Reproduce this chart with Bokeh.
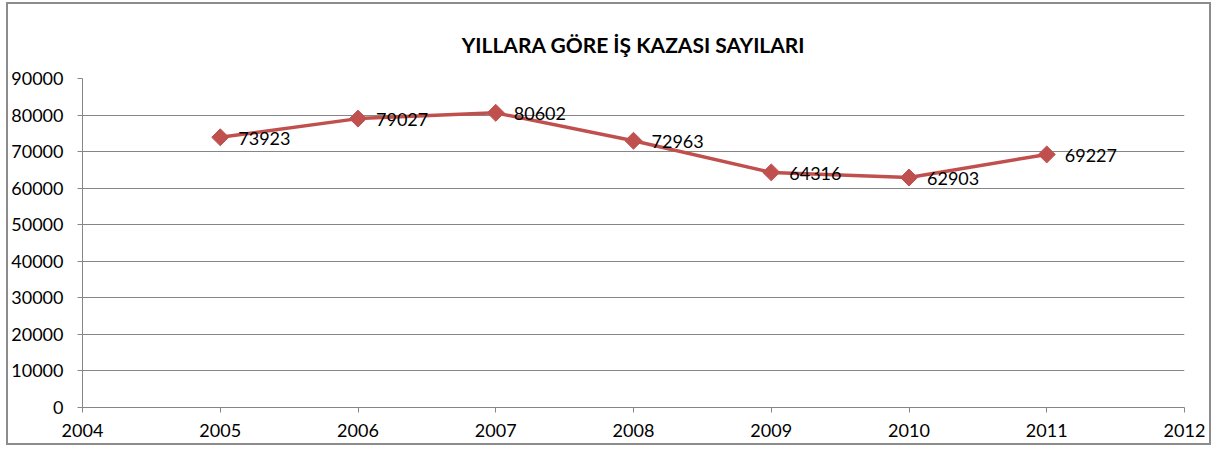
import math
from bokeh.plotting import figure
from bokeh.models import ColumnDataSource, LabelSet, FixedTicker, Range1d
from bokeh.core.properties import value
from bokeh.embed import file_html
from bokeh.resources import INLINE

years = [2005, 2006, 2007, 2008, 2009, 2010, 2011]
accidents = [73923, 79027, 80602, 72963, 64316, 62903, 69227]
labels = [str(v) for v in accidents]
x_ticks = [2004, 2005, 2006, 2007, 2008, 2009, 2010, 2011, 2012]
y_ticks = [0, 10000, 20000, 30000, 40000, 50000, 60000, 70000, 80000, 90000]
title_text = "YILLARA GÖRE İŞ KAZASI SAYILARI"

FONT = "Lato"
GRAY = "#868686"
RED = "#C0504D"

src = ColumnDataSource(dict(x=years, y=accidents, label=labels))

p = figure(width=1205, height=443, output_backend="svg", toolbar_location=None,
           x_range=Range1d(2004, 2012), y_range=Range1d(0, 90000),
           min_border_left=74, min_border_right=29, min_border_top=74,
           min_border_bottom=40, title=title_text)
p.styles = {"border": "2px solid #8c8c8c", "margin-left": "6px", "margin-top": "2px"}

p.title.text_font = FONT
p.title.text_font_size = "21px"
p.title.text_font_style = "bold"
p.title.align = "center"
p.title.text_color = "#000000"
p.title.standoff = 43

p.outline_line_color = None
p.xgrid.grid_line_color = None
p.ygrid.grid_line_color = GRAY
p.ygrid.grid_line_width = 1

p.xaxis.ticker = FixedTicker(ticks=x_ticks)
p.yaxis.ticker = FixedTicker(ticks=y_ticks)
for ax in (p.xaxis, p.yaxis):
    ax.axis_line_color = GRAY
    ax.major_tick_line_color = GRAY
    ax.minor_tick_line_color = None
    ax.major_tick_out = 5
    ax.major_tick_in = 0
    ax.major_label_text_font = FONT
    ax.major_label_text_font_size = "18px"
    ax.major_label_text_color = "#000000"
p.xaxis.major_label_standoff = 11
p.yaxis.major_label_standoff = 14

p.line("x", "y", source=src, line_color=RED, line_width=3.5)
p.scatter("x", "y", source=src, marker="square", angle=math.pi / 4, size=12,
          fill_color=RED, line_color=RED)

lbls = LabelSet(x="x", y="y", text="label", source=src, x_offset=18, y_offset=-1,
                text_font=value(FONT), text_font_size="18px", text_baseline="middle",
                text_color="#000000")
p.add_layout(lbls)

open("out.html", "w").write(file_html(p, INLINE))
